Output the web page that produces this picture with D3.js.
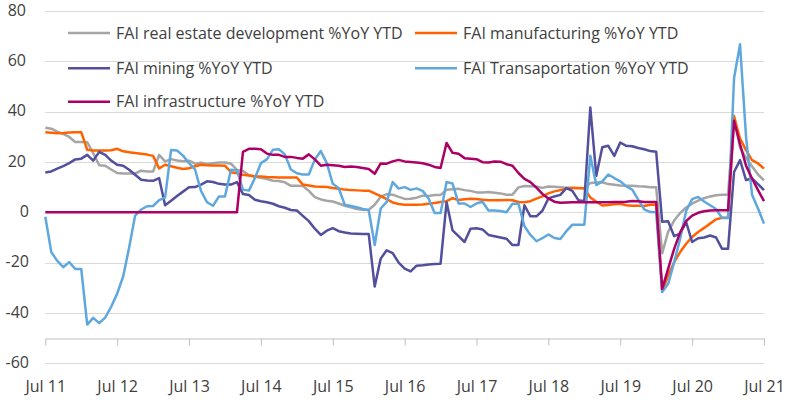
<!DOCTYPE html>
<html><head><meta charset="utf-8">
<script src="https://cdn.jsdelivr.net/npm/d3@7"></script>
<style>body{margin:0;background:#fff}svg{display:block}</style>
</head><body><svg id="c" width="800" height="400"></svg>
<script>
// Monthly values, Jul 2011 .. Jul 2021 (121 points)
const realEstate = [33.6,33.2,32.0,31.1,29.9,27.9,
 27.9,27.8,23.5,18.7,18.5,17.0,15.6,15.4,15.4,15.4,16.5,16.2,
 16.2,22.8,20.2,21.1,20.6,20.3,20.5,19.3,19.7,19.2,19.5,19.8,
 19.8,19.3,16.8,16.4,14.7,14.1,13.7,13.2,12.5,12.4,11.9,10.5,
 10.5,10.4,8.5,6.0,5.1,4.6,4.3,3.5,2.6,2.0,1.3,1.0,
 1.0,3.0,6.2,7.2,7.0,6.1,5.3,5.4,5.8,6.6,6.5,6.9,
 6.9,8.9,9.1,9.3,8.8,8.5,7.9,7.9,8.1,7.8,7.5,7.0,
 7.0,9.9,10.4,10.3,10.2,9.7,10.2,10.1,9.9,9.7,9.7,9.5,
 9.5,11.6,11.8,11.9,11.2,10.9,10.6,10.5,10.5,10.3,10.2,9.9,
 9.9,-16.3,-7.7,-3.3,-0.3,1.9,3.4,4.6,5.6,6.3,6.8,7.0,
 7.0,38.3,25.6,21.6,18.3,15.0,12.7];
const manufacturing = [31.8,31.6,31.4,31.5,31.7,31.8,
 31.8,24.8,24.5,24.5,24.5,24.6,25.2,24.2,23.8,23.5,23.2,22.9,
 22.4,17.4,18.9,18.3,17.7,17.2,17.5,18.3,18.9,18.7,18.6,18.6,
 18.5,15.9,15.5,14.9,14.6,14.3,14.2,14.0,13.9,13.8,13.8,13.8,
 13.8,11.0,10.6,10.2,10.1,10.0,9.6,9.3,9.0,8.8,8.7,8.6,
 8.6,7.5,6.4,5.2,3.9,3.3,3.0,3.0,3.0,3.1,3.4,3.7,
 4.1,4.4,5.6,4.9,5.2,5.4,5.3,5.0,4.8,4.8,4.8,4.9,
 4.8,4.1,4.0,4.4,5.4,6.3,7.5,8.3,8.8,9.3,9.6,9.6,
 9.5,5.9,4.2,2.7,2.9,3.2,3.4,2.8,2.6,2.6,2.5,3.0,
 3.0,-31.5,-25.0,-19.8,-15.8,-12.5,-9.8,-7.8,-6.2,-4.5,-2.8,-2.2,
 -2.2,37.9,29.3,24.7,20.7,19.4,17.4];
const mining = [15.8,16.2,17.3,18.3,19.5,21.0,
 21.3,22.8,20.5,24.0,22.8,20.5,18.9,18.5,16.9,14.9,12.9,12.6,
 12.5,13.6,2.8,4.6,6.5,8.2,9.9,10.0,11.0,12.3,12.0,11.3,
 11.0,11.0,12.0,7.3,6.9,5.0,4.4,4.0,3.4,2.4,1.8,0.9,
 0.7,-1.4,-3.5,-6.5,-9.0,-7.3,-6.3,-7.5,-8.0,-8.4,-8.5,-8.6,
 -8.6,-29.5,-18.4,-15.1,-16.2,-20.0,-22.4,-23.5,-21.2,-21.0,-20.7,-20.5,
 -20.4,4.0,-7.2,-9.5,-11.8,-6.5,-6.3,-6.8,-9.0,-9.5,-10.0,-10.5,
 -13.0,-13.0,2.8,-1.6,-1.6,0.6,5.5,6.3,6.9,9.6,8.5,4.8,
 4.4,41.6,14.5,25.8,26.4,22.4,27.7,26.4,26.2,25.5,25.0,24.3,
 24.0,-3.8,-3.6,-9.5,-8.5,-3.9,-11.8,-10.3,-10.0,-9.2,-10.0,-14.5,
 -14.5,16.0,20.7,12.8,13.4,11.2,8.8];
const transportation = [-1.8,-15.8,-19.3,-21.8,-19.8,-22.5,
 -22.5,-44.6,-41.9,-44.0,-41.8,-37.5,-32.3,-25.5,-14.0,-1.3,1.1,2.4,
 2.5,4.8,5.8,24.7,24.5,22.5,19.5,17.0,8.5,4.0,2.6,6.3,
 6.3,16.9,16.6,9.0,8.6,13.6,19.5,21.0,24.8,25.0,23.0,17.0,
 15.5,15.0,15.0,20.9,24.3,19.5,11.3,9.5,3.0,2.5,2.0,1.3,
 0.8,-13.0,1.5,4.1,12.0,9.4,10.0,8.9,9.5,8.5,5.5,-0.3,
 -0.3,12.0,11.4,3.5,3.5,2.1,3.5,4.2,0.7,0.7,0.5,0.0,
 3.4,3.4,-5.5,-9.0,-11.5,-10.3,-8.8,-10.2,-10.6,-7.5,-4.9,-4.9,
 -4.9,22.4,10.8,12.3,15.0,13.6,12.3,10.3,9.0,5.0,1.2,0.1,
 0.0,-31.7,-28.4,-19.8,-10.5,0.5,5.2,6.1,4.3,2.8,1.3,-2.3,
 -2.3,53.2,66.7,30.0,7.0,1.5,-4.5];
const infrastructure = [0,0,0,0,0,0,
 0,0,0,0,0,0,0,0,0,0,0,0,
 0,0,0,0,0,0,0,0,0,0,0,0,
 0,0,0,24.0,25.2,25.2,25.0,23.3,22.8,22.8,22.0,22.0,
 21.6,21.3,23.0,21.0,18.5,18.9,18.7,18.5,18.0,18.2,18.0,17.6,
 17.2,15.3,19.4,19.3,20.2,20.8,20.2,20.0,19.8,19.5,18.9,18.0,
 17.6,27.5,23.6,23.2,21.5,21.3,21.1,19.9,19.8,20.2,20.1,19.1,
 18.5,15.6,13.3,12.0,9.8,7.3,5.5,4.2,3.8,3.9,4.0,4.0,
 4.0,4.0,4.0,4.0,4.0,4.1,4.1,4.2,4.5,4.4,4.1,4.1,
 4.1,-30.4,-22.4,-14.5,-8.0,-3.5,-1.3,-0.2,0.4,0.7,0.8,0.8,
 0.8,36.3,27.0,18.5,13.4,8.8,4.4];

const seriesNames = ["FAI real estate development %YoY YTD","FAI manufacturing %YoY YTD",
  "FAI mining %YoY YTD","FAI Transaportation %YoY YTD","FAI infrastructure %YoY YTD"];
const seriesColors = ["#a5a5a5","#ff6200","#524f9c","#5fa8de","#ab0066"];
const seriesData = [realEstate, manufacturing, mining, transportation, infrastructure];
const tickLabels = ["Jul 11","Jul 12","Jul 13","Jul 14","Jul 15","Jul 16","Jul 17","Jul 18","Jul 19","Jul 20","Jul 21"];
const tickMonths = [0,12,24,36,48,60,72,84,96,108,120];
const yTicks = [-60,-40,-20,0,20,40,60,80];

const FONT = "'Open Sans', sans-serif";
const svg = d3.select("#c");
svg.append("rect").attr("width",800).attr("height",400).attr("fill","#fff");

const x = d3.scaleLinear().domain([0,120]).range([45.3,764]);
const y = d3.scaleLinear().domain([-60,80]).range([363.4,10.8]);

// gridlines
svg.append("g").selectAll("line").data(yTicks).join("line")
  .attr("x1",x(0)).attr("x2",x(120))
  .attr("y1",d=>Math.round(y(d))+0.5).attr("y2",d=>Math.round(y(d))+0.5)
  .attr("stroke","#d9d9d9").attr("stroke-width",1);

// y labels
svg.append("g").selectAll("text").data(yTicks).join("text")
  .attr("x",d=>d>0?26:29).attr("y",d=>y(d)).attr("dy","0.3em")
  .attr("text-anchor","end").attr("font-family",FONT).attr("font-size",16)
  .attr("fill","#404040").text(d=>d);

// x axis at -50
const xAxis = d3.axisBottom(x).tickValues(tickMonths)
  .tickFormat((d,i)=>tickLabels[i]).tickSize(7).tickSizeOuter(0).tickPadding(35);
const gx = svg.append("g").attr("transform",`translate(0,${Math.round(y(-50))+0.5})`).call(xAxis);
gx.select(".domain").attr("stroke","#bfbfbf");
gx.selectAll(".tick line").attr("stroke","#bfbfbf");
gx.selectAll(".tick text").attr("font-family",FONT).attr("font-size",16).attr("fill","#404040");

// lines
const line = d3.line().x((d,i)=>x(i)).y(d=>y(d));
svg.append("g").selectAll("path").data(seriesData).join("path")
  .attr("d",line).attr("fill","none")
  .attr("stroke",(d,i)=>seriesColors[i]).attr("stroke-width",2.5)
  .attr("stroke-linejoin","round");

// legend
const legendPos = [[68,33],[415,33],[68,68.3],[415,68.3],[68,101.7]];
const lg = svg.append("g").selectAll("g").data(seriesNames).join("g")
  .attr("transform",(d,i)=>`translate(${legendPos[i][0]},${legendPos[i][1]})`);
lg.append("line").attr("x1",0).attr("x2",42).attr("y1",0).attr("y2",0)
  .attr("stroke",(d,i)=>seriesColors[i]).attr("stroke-width",2.5);
lg.append("text").attr("x",48).attr("y",0).attr("dy","0.35em")
  .attr("font-family",FONT).attr("font-size",16).attr("fill","#404040").text(d=>d);
</script>
</body></html>
